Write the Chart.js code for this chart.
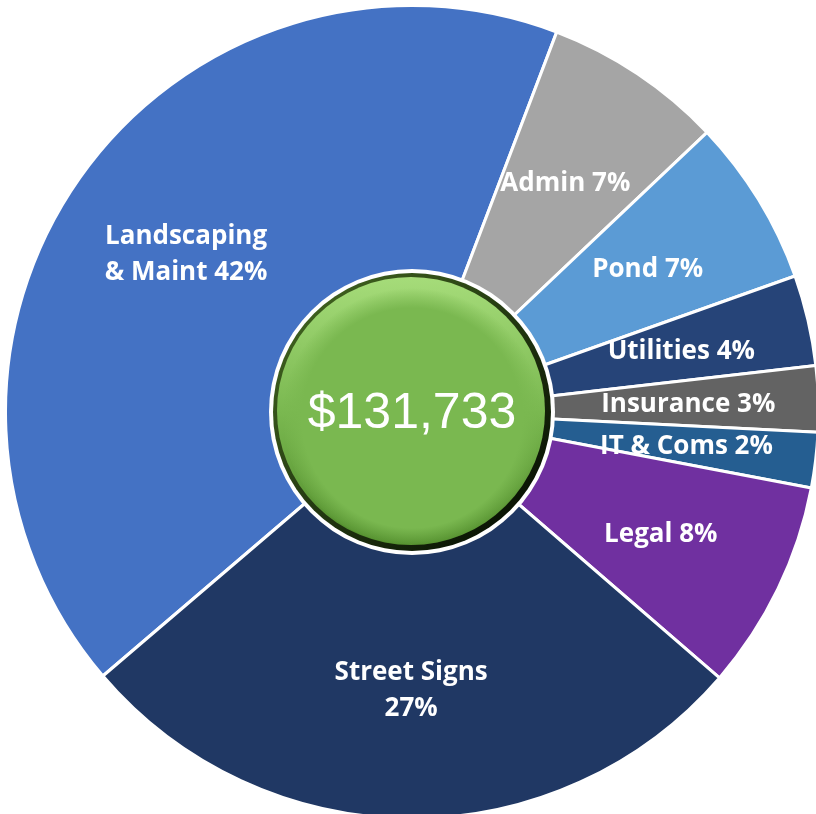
<!DOCTYPE html>
<html>
<head>
<meta charset="utf-8">
<script src="https://cdn.jsdelivr.net/npm/chart.js@4.4.1/dist/chart.umd.min.js"></script>
<style>
  html, body { margin: 0; padding: 0; background: #fff; overflow: hidden; }
  #wrap { position: absolute; left: 4px; top: 4px; width: 816px; height: 816px; }
</style>
</head>
<body>
<div id="wrap"><canvas id="pieChart"></canvas></div>
<script>
// expense categories, clockwise from the lower-left edge of Landscaping
const categories = ['Landscaping & Maint', 'Admin', 'Pond', 'Utilities', 'Insurance', 'IT & Coms', 'Legal', 'Street Signs'];
const amounts = [55383, 9400, 8750, 4750, 3450, 2900, 11000, 36100];
// how each label is broken into lines (the % goes on the last line)
const labelLines = [['Landscaping', '& Maint'], ['Admin'], ['Pond'], ['Utilities'], ['Insurance'], ['IT & Coms'], ['Legal'], ['Street Signs', '']];
const sliceColors = ['#4472C4', '#A5A5A5', '#5B9BD5', '#264478', '#636363', '#255E91', '#7030A0', '#203864'];

const total = amounts.reduce((a, b) => a + b, 0);
const totalText = '$' + total.toLocaleString('en-US');

// labels drawn inside each slice
const sliceLabels = {
    id: 'sliceLabels',
    afterDatasetsDraw(chart) {
        const c = chart.ctx;
        const meta = chart.getDatasetMeta(0);
        c.save();
        c.fillStyle = '#fff';
        c.font = 'bold 26px "Open Sans", sans-serif';
        c.textAlign = 'center';
        c.textBaseline = 'middle';
        meta.data.forEach((arc, i) => {
            const mid = (arc.startAngle + arc.endAngle) / 2;
            const r = arc.outerRadius * 0.68;
            const x = arc.x + Math.cos(mid) * r;
            const y = arc.y + Math.sin(mid) * r + 2;
            const pct = Math.round(amounts[i] / total * 100) + '%';
            let lines = labelLines[i].slice();
            const last = lines.length - 1;
            lines[last] = lines[last] ? lines[last] + ' ' + pct : pct;
            const lh = 36;
            const y0 = y - (lines.length - 1) * lh / 2;
            lines.forEach((t, k) => c.fillText(t, x, y0 + k * lh));
        });
        c.restore();
    }
};

// green button in the middle with the total
const centerBadge = {
    id: 'centerBadge',
    afterDraw(chart) {
        const c = chart.ctx;
        const arc = chart.getDatasetMeta(0).data[0];
        const cx = arc.x, cy = arc.y;
        c.save();
        c.beginPath();
        c.arc(cx, cy, 143, 0, Math.PI * 2);
        c.fillStyle = '#fff';
        c.fill();

        let g = c.createLinearGradient(cx - 100, cy - 100, cx + 100, cy + 100);
        g.addColorStop(0, '#3d5e1e');
        g.addColorStop(1, '#0a1404');
        c.beginPath();
        c.arc(cx, cy, 139, 0, Math.PI * 2);
        c.fillStyle = g;
        c.fill();

        g = c.createLinearGradient(cx, cy - 136, cx, cy + 136);
        g.addColorStop(0, '#a6dc7a');
        g.addColorStop(0.5, '#7ab850');
        g.addColorStop(1, '#4f8a2a');
        c.beginPath();
        c.arc(cx - 1, cy - 1, 134, 0, Math.PI * 2);
        c.fillStyle = g;
        c.fill();

        g = c.createRadialGradient(cx, cy + 6, 110, cx, cy + 6, 130);
        g.addColorStop(0, '#7ab850');
        g.addColorStop(1, 'rgba(122,184,80,0)');
        c.beginPath();
        c.arc(cx, cy + 4, 129, 0, Math.PI * 2);
        c.fillStyle = g;
        c.fill();

        c.fillStyle = '#fff';
        c.font = '50px "Liberation Sans", Arial, sans-serif';
        c.textAlign = 'center';
        c.textBaseline = 'middle';
        c.fillText(totalText, cx, cy + 2);
        c.restore();
    }
};

new Chart(document.getElementById('pieChart'), {
    type: 'pie',
    data: {
        labels: categories,
        datasets: [{
            data: amounts,
            backgroundColor: sliceColors,
            borderColor: '#fff',
            borderWidth: 3
        }]
    },
    options: {
        responsive: true,
        maintainAspectRatio: false,
        animation: false,
        rotation: -130.5,
        layout: { padding: 0 },
        plugins: {
            legend: { display: false },
            tooltip: { enabled: false }
        }
    },
    plugins: [sliceLabels, centerBadge]
});
</script>
</body>
</html>
